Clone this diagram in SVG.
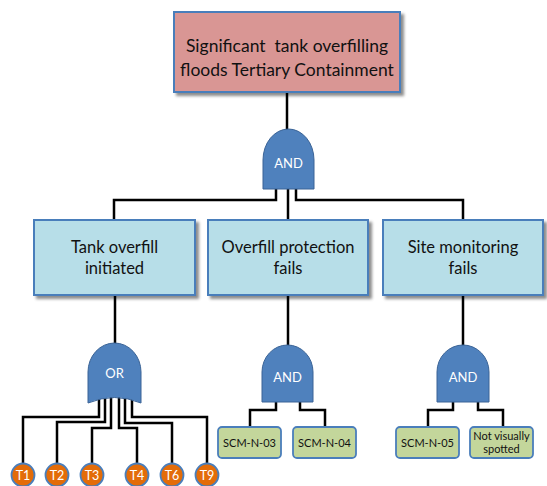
<svg xmlns="http://www.w3.org/2000/svg" width="547" height="486" viewBox="0 0 547 486">
  <defs>
    <filter id="shadow" x="-10%" y="-10%" width="130%" height="140%">
      <feDropShadow dx="3" dy="3" stdDeviation="1.8" flood-color="#000" flood-opacity="0.45"/>
    </filter>
    <style>
      .event { stroke: #4A7EBB; stroke-width: 2; filter: url(#shadow); }
      .top { fill: #D99694; }
      .mid { fill: #B7DEE8; }
      .basic { fill: #C3D69B; stroke: #4A7EBB; stroke-width: 1.8; }
      .gate { fill: #4F81BD; stroke: #3A6396; stroke-width: 1; }
      .cause { fill: #E36C09; stroke: #4A7EBB; stroke-width: 1.8; }
      .wire { fill: none; stroke: #000; stroke-width: 2.5; }
      .label { font-family: Lato, "Liberation Sans", sans-serif; fill: #111; text-anchor: middle; }
      .big { font-size: 17.5px; }
      .med { font-size: 16.5px; }
      .small { font-size: 11px; }
      .gtext { font-family: Lato, "Liberation Sans", sans-serif; fill: #fff; font-size: 13px; text-anchor: middle; }
      .ctext { font-family: Lato, "Liberation Sans", sans-serif; fill: #fff; font-size: 12.5px; text-anchor: middle; }
    </style>
  </defs>

  <!-- connectors -->
  <g id="connectors">
    <path class="wire" d="M287,92 V130"/>
    <path class="wire" d="M276,188 V200 H114 V221"/>
    <path class="wire" d="M288,188 V221"/>
    <path class="wire" d="M296,188 V200 H463 V221"/>
    <path class="wire" d="M115,295 V344"/>
    <path class="wire" d="M288,295 V346"/>
    <path class="wire" d="M463,295 V346"/>
    <!-- OR gate to causes -->
    <path class="wire" d="M99,398 V417 H23 V464"/>
    <path class="wire" d="M105,397 V422 H57 V464"/>
    <path class="wire" d="M111,396 V428 H92 V464"/>
    <path class="wire" d="M119,396 V428 H137 V464"/>
    <path class="wire" d="M125,397 V423 H172 V464"/>
    <path class="wire" d="M132,398 V417 H207 V464"/>
    <!-- AND gates to basic events -->
    <path class="wire" d="M276,400 V410 H250 V428"/>
    <path class="wire" d="M300,400 V410 H325 V428"/>
    <path class="wire" d="M453,400 V410 H428 V428"/>
    <path class="wire" d="M478,400 V410 H503 V428"/>
  </g>

  <!-- top event -->
  <g id="top-event">
    <rect class="event top" x="174" y="12" width="226" height="80"/>
    <text class="label big" x="287" y="52" xml:space="preserve">Significant  tank overfilling</text>
    <text class="label big" x="287" y="76">floods Tertiary Containment</text>
  </g>

  <g id="gate-top-and">
    <path class="gate" d="M263,189 V160 A25.5,31 0 0 1 314,160 V189 Z"/>
    <text class="gtext" x="288.5" y="167.5">AND</text>
  </g>

  <!-- intermediate events -->
  <g id="tank-overfill">
    <rect class="event mid" x="34" y="220" width="161" height="75"/>
    <text class="label med" x="114.5" y="253">Tank overfill</text>
    <text class="label med" x="114.5" y="274">initiated</text>
  </g>
  <g id="overfill-protection">
    <rect class="event mid" x="208" y="220" width="160" height="75"/>
    <text class="label med" x="288" y="253">Overfill protection</text>
    <text class="label med" x="288" y="274">fails</text>
  </g>
  <g id="site-monitoring">
    <rect class="event mid" x="383" y="220" width="160" height="75"/>
    <text class="label med" x="463" y="253">Site monitoring</text>
    <text class="label med" x="463" y="274">fails</text>
  </g>

  <!-- gates -->
  <g id="gate-or">
    <path class="gate" d="M88,403 V372 A26.5,29 0 0 1 141,372 V403 Q114.5,392 88,403 Z"/>
    <text class="gtext" x="114.5" y="378">OR</text>
  </g>
  <g id="gate-and-protection">
    <path class="gate" d="M262,402 V372 A25.5,27 0 0 1 313,372 V402 Z"/>
    <text class="gtext" x="287.5" y="381.5">AND</text>
  </g>
  <g id="gate-and-monitoring">
    <path class="gate" d="M437,402 V372 A26,27 0 0 1 489,372 V402 Z"/>
    <text class="gtext" x="463" y="381.5">AND</text>
  </g>

  <!-- basic events -->
  <g id="scm-n-03">
    <rect class="basic" x="218" y="427" width="63" height="31" rx="4"/>
    <text class="label small" x="249.5" y="446.5">SCM-N-03</text>
  </g>
  <g id="scm-n-04">
    <rect class="basic" x="293" y="427" width="63" height="31" rx="4"/>
    <text class="label small" x="324.5" y="446.5">SCM-N-04</text>
  </g>
  <g id="scm-n-05">
    <rect class="basic" x="396" y="427" width="63" height="31" rx="4"/>
    <text class="label small" x="427.5" y="446.5">SCM-N-05</text>
  </g>
  <g id="not-visually-spotted">
    <rect class="basic" x="470" y="427" width="63" height="31" rx="4"/>
    <text class="label small" x="501.5" y="440">Not visually</text>
    <text class="label small" x="501.5" y="453">spotted</text>
  </g>

  <!-- initiating causes -->
  <g id="t1">
    <circle class="cause" cx="23" cy="475" r="11.5"/>
    <text class="ctext" x="23" y="479.5">T1</text>
  </g>
  <g id="t2">
    <circle class="cause" cx="57" cy="475" r="11.5"/>
    <text class="ctext" x="57" y="479.5">T2</text>
  </g>
  <g id="t3">
    <circle class="cause" cx="92" cy="475" r="11.5"/>
    <text class="ctext" x="92" y="479.5">T3</text>
  </g>
  <g id="t4">
    <circle class="cause" cx="137" cy="475" r="11.5"/>
    <text class="ctext" x="137" y="479.5">T4</text>
  </g>
  <g id="t6">
    <circle class="cause" cx="172" cy="475" r="11.5"/>
    <text class="ctext" x="172" y="479.5">T6</text>
  </g>
  <g id="t9">
    <circle class="cause" cx="207" cy="475" r="11.5"/>
    <text class="ctext" x="207" y="479.5">T9</text>
  </g>
</svg>
